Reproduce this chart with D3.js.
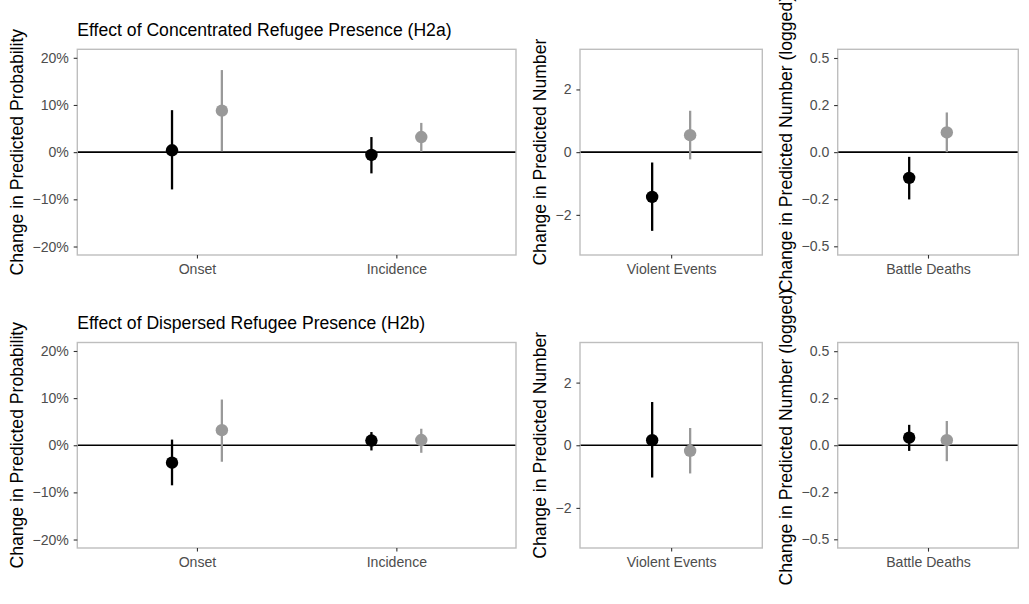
<!DOCTYPE html>
<html>
<head>
<meta charset="utf-8">
<script src="https://cdn.jsdelivr.net/npm/d3@7"></script>
<style>
  body { margin: 0; padding: 0; background: #fff; }
  svg text { font-family: "Liberation Sans", Arial, Helvetica, sans-serif; }
</style>
</head>
<body>
<div id="chart"></div>
<script>
// row titles
const rowTitles = ["Effect of Concentrated Refugee Presence (H2a)", "Effect of Dispersed Refugee Presence (H2b)"];
const seriesColors = ["#000000", "#999999"];

// probability panel: [row][category][series]
const probCategories = ["Onset", "Incidence"];
const probEst  = [[[0.004, 0.088], [-0.006, 0.032]], [[-0.037, 0.032], [0.010, 0.011]]];
const probLow  = [[[-0.079, 0.002], [-0.045, 0.001]], [[-0.085, -0.035], [-0.011, -0.016]]];
const probHigh = [[[0.089, 0.174], [0.032, 0.062]], [[0.012, 0.097], [0.028, 0.035]]];
const probTicks = [-0.2, -0.1, 0, 0.1, 0.2];

// violent events panel
const eventsCategories = ["Violent Events"];
const eventsEst  = [[[-1.43, 0.54]], [[0.16, -0.18]]];
const eventsLow  = [[[-2.51, -0.23]], [[-1.03, -0.90]]];
const eventsHigh = [[[-0.33, 1.32]], [[1.38, 0.55]]];
const eventsTicks = [-2, 0, 2];

// battle deaths panel (logged)
const deathsCategories = ["Battle Deaths"];
const deathsEst  = [[[-0.099, 0.074]], [[0.027, 0.018]]];
const deathsLow  = [[[-0.201, 0.0]], [[-0.020, -0.059]]];
const deathsHigh = [[[-0.0165, 0.163]], [[0.077, 0.093]]];
const deathsTicks = [-0.5, -0.2, 0, 0.2, 0.5];

const width = 1029, height = 604;
const colLeft = [77.3, 580, 837.7], colRight = [516, 762.3, 1018.3];
const rowTop = [49.3, 342.5], rowBottom = [255, 548];

const minus = s => s.replace("-", "\u2212");

const panels = [
  { cats: probCategories, est: probEst, low: probLow, high: probHigh, ticks: probTicks,
    scale: () => d3.scaleLinear().domain([-0.218, 0.218]),
    fmt: d => minus(Math.round(d * 100) + "%"), title: "Change in Predicted Probability", shift: 0 },
  { cats: eventsCategories, est: eventsEst, low: eventsLow, high: eventsHigh, ticks: eventsTicks,
    scale: () => d3.scaleLinear().domain([-3.28, 3.28]),
    fmt: d => minus(String(d)), title: "Change in Predicted Number", shift: 0 },
  { cats: deathsCategories, est: deathsEst, low: deathsLow, high: deathsHigh, ticks: deathsTicks,
    scale: () => d3.scaleSymlog().constant(0.4).domain([-0.57, 0.57]),
    fmt: d => minus(d3.format(".1f")(d)), title: "Change in Predicted Number (logged)", shift: -8 }
];

const svg = d3.select("#chart").append("svg").attr("width", width).attr("height", height);

rowTitles.forEach((rt, r) => {
  svg.append("text")
    .attr("x", colLeft[0]).attr("y", rowTop[r] - 13.3)
    .attr("font-size", "17.6px").attr("fill", "#000")
    .text(rt);

  panels.forEach((p, c) => {
    const x0 = colLeft[c], x1 = colRight[c], y0 = rowTop[r], y1 = rowBottom[r];
    const x = d3.scalePoint().domain(p.cats).range([x0, x1]).padding(0.6);
    const y = p.scale().range([y1, y0]);
    const dodge = 0.125 * x.step();
    const g = svg.append("g");

    // zero line
    g.append("line")
      .attr("x1", x0).attr("x2", x1).attr("y1", y(0)).attr("y2", y(0))
      .attr("stroke", "#000").attr("stroke-width", 1.6);

    const pts = [];
    p.cats.forEach((cat, i) => {
      seriesColors.forEach((col, s) => {
        pts.push({ cat, s, col, est: p.est[r][i][s], lo: p.low[r][i][s], hi: p.high[r][i][s] });
      });
    });
    const px = d => x(d.cat) + (d.s === 0 ? -dodge : dodge);

    g.selectAll(".bar").data(pts).enter().append("line")
      .attr("x1", px).attr("x2", px)
      .attr("y1", d => y(d.lo)).attr("y2", d => y(d.hi))
      .attr("stroke", d => d.col).attr("stroke-width", 2.3);
    g.selectAll(".pt").data(pts).enter().append("circle")
      .attr("cx", px).attr("cy", d => y(d.est)).attr("r", 6.2)
      .attr("fill", d => d.col);

    // panel border
    g.append("rect")
      .attr("x", x0).attr("y", y0).attr("width", x1 - x0).attr("height", y1 - y0)
      .attr("fill", "none").attr("stroke", "#BEBEBE").attr("stroke-width", 1.4);

    // axes
    const ya = g.append("g").attr("transform", `translate(${x0},0)`)
      .call(d3.axisLeft(y).tickValues(p.ticks).tickFormat(p.fmt).tickSize(3.6).tickPadding(4.8));
    const xa = g.append("g").attr("transform", `translate(0,${y1})`)
      .call(d3.axisBottom(x).tickSize(3.6).tickPadding(4.9));
    [ya, xa].forEach(a => {
      a.select(".domain").remove();
      a.selectAll(".tick line").attr("stroke", "#333333").attr("stroke-width", 1.1);
      a.selectAll(".tick text").attr("fill", "#4D4D4D").attr("font-size", "14.1px")
        .attr("font-family", "Liberation Sans, Arial, sans-serif");
    });

    // y title placed beside widest tick label
    let maxW = 0;
    ya.selectAll(".tick text").each(function () { maxW = Math.max(maxW, this.getComputedTextLength()); });
    const tx = x0 - 3.6 - 4.8 - maxW - 9.7;
    g.append("text")
      .attr("transform", `translate(${tx},${(y0 + y1) / 2 + p.shift}) rotate(-90)`)
      .attr("text-anchor", "middle").attr("font-size", "17.6px").attr("fill", "#000")
      .text(p.title);
  });
});
</script>
</body>
</html>
